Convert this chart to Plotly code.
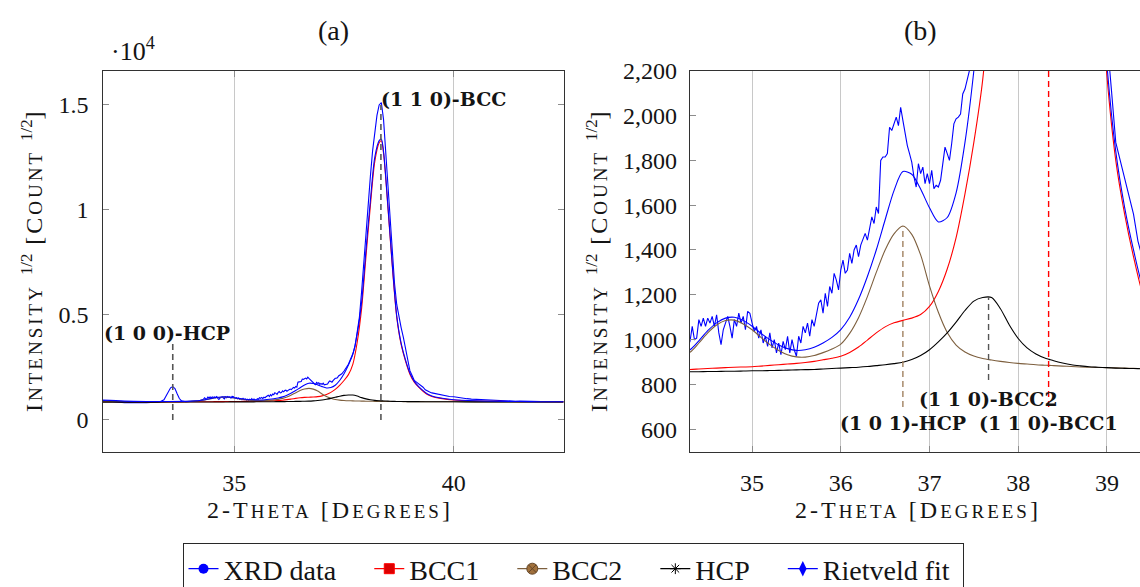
import plotly.graph_objects as go

# ---------------- data ----------------
# 2-theta grid of the measured XRD scan
data_x = [
    32.0, 32.1, 32.2, 32.3, 32.4, 32.5, 32.6, 32.7, 32.8, 32.9, 33.0, 33.1, 33.2, 33.3, 33.4,
    33.45, 33.5, 33.55, 33.6, 33.65, 33.7, 33.75, 33.8, 33.9, 34.0, 34.1, 34.2, 34.25,
    34.300, 34.325, 34.350, 34.375, 34.400, 34.425, 34.450, 34.475, 34.500, 34.525,
    34.550, 34.575, 34.600, 34.625, 34.650, 34.675, 34.700, 34.725, 34.750, 34.775,
    34.800, 34.825, 34.850, 34.875, 34.900, 34.925, 34.950, 34.975, 35.000, 35.025,
    35.050, 35.075, 35.100, 35.125, 35.150, 35.175, 35.200, 35.225, 35.250, 35.275,
    35.300, 35.325, 35.350, 35.375, 35.400, 35.425, 35.450, 35.475, 35.500, 35.525,
    35.550, 35.575, 35.600, 35.625, 35.650, 35.675, 35.700, 35.725, 35.750, 35.775,
    35.800, 35.825, 35.850, 35.875, 35.900, 35.925, 35.950, 35.975, 36.000, 36.025,
    36.050, 36.075, 36.100, 36.125, 36.150, 36.175, 36.200, 36.225, 36.250, 36.275,
    36.300, 36.325, 36.350, 36.375, 36.400, 36.425, 36.450, 36.475, 36.500, 36.525,
    36.550, 36.575, 36.600, 36.625, 36.650, 36.675, 36.700, 36.725, 36.750, 36.775,
    36.800, 36.825, 36.850, 36.875, 36.900, 36.925, 36.950, 36.975, 37.000, 37.025,
    37.050, 37.075, 37.100, 37.125, 37.150, 37.175, 37.200, 37.225, 37.250, 37.275,
    37.300, 37.325, 37.350, 37.375, 37.400, 37.425, 37.450,
    37.50, 37.55, 37.60, 37.65, 37.70, 37.75, 37.80, 37.85, 37.90, 37.95, 38.00, 38.05,
    38.10, 38.15, 38.20, 38.25, 38.30, 38.35, 38.40, 38.45, 38.50, 38.55, 38.60, 38.65,
    38.70, 38.75, 38.80, 38.85, 38.90, 38.95, 39.00, 39.05, 39.10, 39.15, 39.20, 39.25,
    39.30, 39.35, 39.40, 39.45, 39.50,
    39.6, 39.7, 39.8, 39.9, 40.0, 40.1, 40.2, 40.3, 40.4, 40.5, 40.6, 40.7, 40.8, 40.9,
    41.0, 41.1, 41.2, 41.3, 41.4, 41.5, 41.6, 41.7, 41.8, 41.9, 42.0, 42.1, 42.2, 42.3,
    42.4, 42.5,
]
xrd_data = [
    930, 905, 870, 840, 828, 820, 826, 815, 822, 818, 825, 830, 838, 858, 960,
    1150, 1380, 1530, 1590, 1500, 1250, 1020, 910, 872, 878, 885, 915, 950,
    992, 1059, 1000, 1007, 1089, 1059, 1096, 1059, 1096, 1074,
    1104, 1059, 1111, 1030, 978, 1044, 1074, 1104, 1059, 1007,
    1089, 1059, 1118, 1074, 1104, 1044, 1126, 1118, 1074, 1037,
    1059, 1007, 1044, 985, 1015, 970, 1030, 963, 1000, 941,
    985, 933, 992, 955, 1015, 941, 1000, 955, 926, 1015,
    985, 1059, 1030, 1074, 1015, 1089, 1059, 1104, 1163, 1178,
    1118, 1207, 1148, 1237, 1207, 1296, 1266, 1222, 1311, 1355,
    1296, 1311, 1385, 1340, 1400, 1422, 1370, 1422, 1444, 1474,
    1444, 1504, 1548, 1518, 1592, 1563, 1800, 1815, 1815, 1830,
    1948, 1933, 1963, 1993, 1955, 2037, 1978, 1918, 1866, 1830,
    1792, 1726, 1681, 1785, 1741, 1770, 1696, 1741, 1696, 1755,
    1674, 1689, 1681, 1711, 1800, 1859, 1830, 1800, 1874, 1963,
    1985, 1993, 2007, 2096, 2118, 2155, 2200,
    2330, 2480, 2650, 2900, 3150, 3500, 4100, 4900, 6100, 7600, 9100, 10500,
    11600, 12800, 13800, 14500, 15000, 15110, 14300, 12700, 11000, 9500, 8000, 6500,
    5500, 4850, 4400, 3950, 3450, 2850, 2350, 2120, 1880, 1800, 1720, 1650,
    1560, 1440, 1365, 1330, 1290,
    1240, 1185, 1150, 1115, 1105, 1065, 1045, 1015, 995, 982, 962, 955, 944, 932,
    926, 915, 908, 900, 892, 896, 886, 880, 884, 876, 872, 874, 867, 870,
    864, 866,
]

# 2-theta grid of the fitted phase profiles
fit_x = [
    32.0, 32.5, 33.0, 33.5, 34.0, 34.3, 34.4, 34.5, 34.6, 34.7, 34.8, 34.9, 35.0, 35.1,
    35.2, 35.3, 35.4, 35.5, 35.6, 35.7, 35.8, 35.9, 36.0, 36.1, 36.2, 36.3, 36.4, 36.5,
    36.6, 36.7, 36.8, 36.9, 37.0, 37.1, 37.2, 37.3, 37.4, 37.5, 37.6, 37.7, 37.8, 37.9,
    38.0, 38.1, 38.2, 38.3, 38.35, 38.4, 38.5, 38.6, 38.7, 38.8, 38.9, 39.0, 39.1, 39.2,
    39.3, 39.4, 39.5, 39.7, 40.0, 40.5, 41.0, 41.5, 42.0, 42.5,
]
bcc1 = [
    870, 865, 862, 863, 865, 867, 869, 871, 873, 875, 877, 878, 879, 882,
    885, 888, 891, 894, 898, 903, 910, 917, 926, 943, 967, 998, 1030, 1057,
    1075, 1086, 1096, 1112, 1148, 1215, 1315, 1455, 1650, 1880, 2160, 2650, 3700, 5300,
    7800, 10200, 12300, 13200, 13290, 12700, 10100, 7300, 4900, 3600, 2800, 2180, 1800, 1560,
    1370, 1210, 1120, 1030, 950, 905, 885, 874, 867, 863,
]
bcc2 = [
    895, 875, 868, 870, 888, 944, 985, 1030, 1065, 1085, 1087, 1070, 1044, 1010,
    978, 952, 933, 923, 922, 929, 942, 958, 980, 1028, 1098, 1192, 1300, 1400,
    1472, 1507, 1470, 1378, 1240, 1122, 1032, 976, 945, 927, 916, 909, 903, 898,
    894, 891, 888, 886, 885, 884, 882, 880, 878, 877, 876, 875, 874, 873,
    872, 871, 870, 868, 866, 864, 862, 861, 860, 859,
]
hcp = [
    850, 851, 852, 853, 855, 857, 857, 858, 858, 859, 859, 860, 861, 861,
    862, 863, 864, 865, 866, 867, 869, 871, 873, 875, 877, 880, 884, 888,
    893, 899, 911, 929, 955, 990, 1030, 1078, 1130, 1172, 1188, 1188, 1138, 1065,
    1005, 963, 936, 918, 912, 906, 896, 888, 883, 879, 877, 875, 873, 872,
    871, 870, 869, 867, 865, 863, 861, 860, 859, 858,
]
rietveld_fit = [
    945, 900, 882, 880, 900, 955, 995, 1040, 1075, 1096, 1100, 1086, 1060, 1028,
    1000, 976, 960, 952, 955, 966, 985, 1010, 1045, 1100, 1180, 1282, 1400, 1535,
    1665, 1750, 1738, 1672, 1588, 1525, 1545, 1655, 1880, 2200, 2620, 3120, 4100, 5600,
    8100, 10450, 12500, 13300, 13370, 12780, 10180, 7380, 4960, 3660, 2860, 2230, 1840, 1590,
    1400, 1240, 1145, 1050, 965, 915, 892, 878, 870, 865,
]

# axis ticks
a_ytick_vals = [0, 5000, 10000, 15000]
a_ytick_text = ["0", "0.5", "1", "1.5"]
a_xtick_vals = [35, 40]
b_ytick_vals = [600, 800, 1000, 1200, 1400, 1600, 1800, 2000, 2200]
b_ytick_text = ["600", "800", "1,000", "1,200", "1,400", "1,600", "1,800", "2,000", "2,200"]
b_xtick_vals = [35, 36, 37, 38, 39]

# peak markers: (x, y_bottom, y_top)
a_peaks = [(33.60, 0, 3700), (38.34, 0, 15000)]
a_peak_labels = [("(1 0 0)-HCP", 33.47, 4150, "center"), ("(1 1 0)-BCC", 38.30, 15280, "left")]
b_peaks = [(36.70, 700, 1507, "rgb(160,128,96)"), (37.666, 820, 1190, "rgb(85,85,85)"),
           (38.343, 700, 2200, "rgb(255,0,0)")]
b_peak_labels = [("(1 0 1)-HCP", 36.70, 627), ("(1 1 0)-BCC2", 37.666, 733),
                 ("(1 1 0)-BCC1", 38.343, 627)]

# ---------------- layout helpers ----------------
W, H = 1140, 587
def px(v):
    return v / W
def py(v):
    return 1 - v / H

SERIF = "Liberation Serif"
BOLD = "DejaVu Serif"
BLUE = "rgb(0,0,255)"
RED = "rgb(255,0,0)"
BROWN = "rgb(125,95,62)"
BLACK = "rgb(0,0,0)"
LW = 1.1
NBSP = "\u00a0"

fig = go.Figure()

for xa, ya in (("x", "y"), ("x2", "y2")):
    fig.add_trace(go.Scatter(x=data_x, y=xrd_data, mode="lines", line=dict(color=BLUE, width=LW),
                             xaxis=xa, yaxis=ya, showlegend=False, hoverinfo="skip"))
    for vals, col in ((bcc1, RED), (bcc2, BROWN), (hcp, BLACK), (rietveld_fit, BLUE)):
        fig.add_trace(go.Scatter(x=fit_x, y=vals, mode="lines",
                                 line=dict(color=col, width=LW, shape="spline", smoothing=0.8),
                                 xaxis=xa, yaxis=ya, showlegend=False, hoverinfo="skip"))

# legend entries
legend_specs = [
    ("XRD data", BLUE, dict(symbol="circle", size=10, color=BLUE)),
    ("BCC1", RED, dict(symbol="square", size=10, color="rgb(220,0,0)", line=dict(color=RED, width=1))),
    ("BCC2", BROWN, dict(symbol="circle-x", size=11, color="rgb(160,112,60)",
                         line=dict(color="rgb(100,70,40)", width=1))),
    ("HCP", BLACK, dict(symbol="asterisk-open", size=9, color=BLACK, line=dict(color=BLACK, width=1))),
    ("Rietveld fit", BLUE, dict(symbol="diamond-tall", size=11, color=BLUE)),
]
for i, (name, col, mk) in enumerate(legend_specs):
    pad = NBSP * (4 if i < len(legend_specs) - 1 else 1)
    fig.add_trace(go.Scatter(x=[None], y=[None], mode="lines+markers", name=name + pad,
                             line=dict(color=col, width=1.2), marker=mk, xaxis="x", yaxis="y"))

shapes = []
for x0, y0, y1 in a_peaks:
    shapes.append(dict(type="line", xref="x", yref="y", x0=x0, x1=x0, y0=y0, y1=y1,
                       line=dict(color="rgb(85,85,85)", width=1.6, dash="6px,4px")))
for x0, y0, y1, col in b_peaks:
    shapes.append(dict(type="line", xref="x2", yref="y2", x0=x0, x1=x0, y0=y0, y1=y1,
                       line=dict(color=col, width=1.4, dash="6px,4px")))

label_font = dict(family=BOLD, size=19, color="rgb(20,20,20)", weight="bold")
annotations = []
for text, x, y, anch in a_peak_labels:
    annotations.append(dict(text=text, x=x, y=y, xref="x", yref="y", showarrow=False,
                            xanchor=anch, yanchor="middle", font=label_font))
for text, x, y in b_peak_labels:
    annotations.append(dict(text=text, x=x, y=y, xref="x2", yref="y2", showarrow=False,
                            xanchor="center", yanchor="middle", font=label_font))

def small_caps(parts):
    out = []
    for txt, small in parts:
        if small:
            out.append("<span style='font-size:19px;letter-spacing:3px'>%s</span>" % txt)
        else:
            out.append("<span style='font-size:24px;letter-spacing:3px'>%s</span>" % txt)
    return "".join(out)

xtitle = small_caps([("2-T", False), ("HETA", True), (" [D", False), ("EGREES", True), ("]", False)])
ytitle = small_caps([("I", False), ("NTENSITY", True), (" ", False)]) + "<sup>1/2</sup>" + \
    small_caps([(" [C", False), ("OUNT", True), (" ", False)]) + "<sup>1/2</sup>" + \
    small_caps([("]", False)])
txt_font = dict(family=SERIF, size=24, color="rgb(20,20,20)")
for xc in (330, 918):
    annotations.append(dict(text=xtitle, x=px(xc), y=py(510), xref="paper", yref="paper",
                            showarrow=False, xanchor="center", yanchor="middle", font=txt_font))
for xc in (32, 597):
    annotations.append(dict(text=ytitle, x=px(xc), y=py(260), xref="paper", yref="paper",
                            showarrow=False, xanchor="center", yanchor="middle", textangle=-90,
                            font=txt_font))
for t, xc in (("(a)", 333), ("(b)", 920)):
    annotations.append(dict(text=t, x=px(xc), y=py(30), xref="paper", yref="paper", showarrow=False,
                            xanchor="center", yanchor="middle",
                            font=dict(family=SERIF, size=28, color="rgb(20,20,20)")))
annotations.append(dict(text="·10<sup>4</sup>", x=px(109), y=py(50), xref="paper", yref="paper",
                        showarrow=False, xanchor="left", yanchor="middle",
                        font=dict(family=SERIF, size=26, color="rgb(20,20,20)")))

tick_font = dict(family=SERIF, size=24, color="rgb(20,20,20)")
axis_common = dict(showline=True, linecolor="rgb(50,50,50)", linewidth=1.2, ticks="inside",
                   ticklen=6, tickcolor="rgb(140,140,140)", tickfont=tick_font, zeroline=False)

y_dom = [py(451.7), py(70.7)]
fig.update_layout(
    width=W, height=H,
    margin=dict(l=0, r=0, t=0, b=0, autoexpand=False),
    paper_bgcolor="white", plot_bgcolor="white",
    xaxis=dict(domain=[px(102.5), px(563.6)], range=[32.0, 42.5], tickvals=a_xtick_vals,
               showgrid=True, gridcolor="rgb(200,200,200)", gridwidth=1, mirror="ticks",
               ticklabelstandoff=9, anchor="y", **axis_common),
    yaxis=dict(domain=y_dom, range=[-1510, 16630], tickvals=a_ytick_vals, ticktext=a_ytick_text,
               showgrid=False, mirror="ticks", ticklabelstandoff=8, anchor="x", **axis_common),
    xaxis2=dict(domain=[px(690), 1.0], range=[34.3, 34.3 + 450 / 88.7], tickvals=b_xtick_vals,
                showgrid=True, gridcolor="rgb(200,200,200)", gridwidth=1, mirror=True,
                ticklabelstandoff=9, anchor="y2", **axis_common),
    yaxis2=dict(domain=y_dom, range=[500, 2200], tickvals=b_ytick_vals, ticktext=b_ytick_text,
                showgrid=False, mirror=False, ticklabelstandoff=7, anchor="x2", **axis_common),
    showlegend=True,
    legend=dict(orientation="h", x=px(573), xanchor="center", y=py(543), yanchor="top",
                bordercolor="rgb(40,40,40)", borderwidth=1, bgcolor="white",
                font=dict(family=SERIF, size=28, color="rgb(20,20,20)"),
                itemwidth=30, tracegroupgap=0),
    shapes=shapes,
    annotations=annotations,
)

fig.write_html("out.html")
